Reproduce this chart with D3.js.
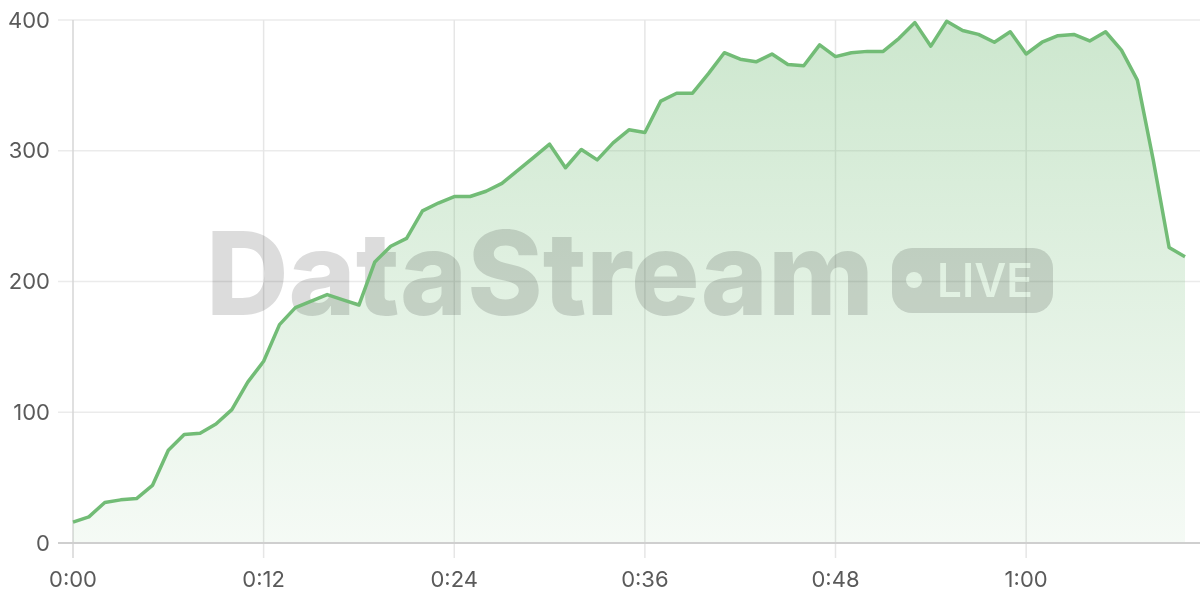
<!DOCTYPE html>
<html>
<head>
<meta charset="utf-8">
<script src="https://cdn.jsdelivr.net/npm/d3@7"></script>
<style>
  html, body { margin: 0; padding: 0; background: #fff; }
  svg { display: block; }
</style>
</head>
<body>
<div id="chart"></div>
<script>
// viewers per minute (one value per minute, 0:00 .. 1:10)
var viewers = [16, 20, 31, 33, 34, 44, 71, 83, 84, 91,
               102, 123, 139, 167, 180, 185, 190, 186, 182, 215,
               227, 233, 254, 260, 265, 265, 269, 275, 285, 295,
               305, 287, 301, 293, 306, 316, 314, 338, 344, 344,
               359, 375, 370, 368, 374, 366, 365, 381, 372, 375,
               376, 376, 386, 398, 380, 399, 392, 389, 383, 391,
               374, 383, 388, 389, 384, 391, 377, 354, 293, 226,
               219];
var xTicks = [0, 12, 24, 36, 48, 60];
var yTicks = [0, 100, 200, 300, 400];

var width = 1200;
var height = 600;
var margin = { top: 20, right: 15, bottom: 57, left: 73 };

var lineColor = "#72bc76";
var gridColor = "#ebebeb";
var labelColor = "#5a5a5a";

var data = viewers.map(function(v, i) { return { minute: i, value: v }; });

var x = d3.scaleLinear()
    .domain([0, data.length - 1])
    .range([margin.left, width - margin.right]);

var y = d3.scaleLinear()
    .domain([0, 400])
    .range([height - margin.bottom, margin.top]);

// 0:00, 0:12 ... minutes shown as h:mm
function fmt(m) {
  return Math.floor(m / 60) + ":" + d3.format("02d")(m % 60);
}

var svg = d3.select("#chart")
  .append("svg")
    .attr("width", width)
    .attr("height", height);

var defs = svg.append("defs");

var grad = defs.append("linearGradient")
    .attr("id", "areaFill")
    .attr("gradientUnits", "userSpaceOnUse")
    .attr("x1", 0).attr("x2", 0)
    .attr("y1", y(400)).attr("y2", y(0));
grad.append("stop").attr("offset", 0).attr("stop-color", lineColor).attr("stop-opacity", 0.36);
grad.append("stop").attr("offset", 1).attr("stop-color", lineColor).attr("stop-opacity", 0.07);

// horizontal grid (+ the little tick stubs on the left)
svg.append("g")
  .selectAll("line")
  .data(yTicks.slice(1))
  .join("line")
    .attr("x1", margin.left - 15)
    .attr("x2", width)
    .attr("y1", d => y(d))
    .attr("y2", d => y(d))
    .attr("stroke", gridColor)
    .attr("stroke-width", 1.5);

// vertical grid, dropping below the axis as tick marks
svg.append("g")
  .selectAll("line")
  .data(xTicks)
  .join("line")
    .attr("x1", d => x(d))
    .attr("x2", d => x(d))
    .attr("y1", y(400))
    .attr("y2", y(0) + 15)
    .attr("stroke", d => d === 0 ? "#d6d6d6" : "#e6e6e6")
    .attr("stroke-width", 1.5);

// area under the line
var area = d3.area()
    .x(d => x(d.minute))
    .y0(y(0))
    .y1(d => y(d.value));

svg.append("path")
    .datum(data)
    .attr("d", area)
    .attr("fill", "url(#areaFill)");

// bottom axis line
svg.append("line")
    .attr("x1", margin.left - 15)
    .attr("x2", width)
    .attr("y1", y(0))
    .attr("y2", y(0))
    .attr("stroke", "#cfcfcf")
    .attr("stroke-width", 2);

// watermark
var wm = svg.append("g").attr("opacity", 0.14);

wm.append("text")
    .attr("x", 206)
    .attr("y", 315)
    .attr("font-family", "Inter, sans-serif")
    .attr("font-weight", 800)
    .attr("font-size", 116)
    .attr("textLength", 668)
    .attr("lengthAdjust", "spacingAndGlyphs")
    .attr("fill", "#000")
    .text("DataStream");

// LIVE badge: the dot and letters are knocked out of the pill
var mask = defs.append("mask").attr("id", "liveMask");
mask.append("rect")
    .attr("x", 892).attr("y", 248)
    .attr("width", 161).attr("height", 65)
    .attr("rx", 20)
    .attr("fill", "#fff");
mask.append("circle")
    .attr("cx", 914).attr("cy", 280).attr("r", 8)
    .attr("fill", "#000");
mask.append("text")
    .attr("x", 937)
    .attr("y", 297)
    .attr("font-family", "Inter, sans-serif")
    .attr("font-weight", 600)
    .attr("font-size", 46)
    .attr("textLength", 96)
    .attr("lengthAdjust", "spacingAndGlyphs")
    .attr("fill", "#000")
    .text("LIVE");

wm.append("rect")
    .attr("x", 892).attr("y", 248)
    .attr("width", 161).attr("height", 65)
    .attr("fill", "#000")
    .attr("mask", "url(#liveMask)");

// the line
var line = d3.line()
    .x(d => x(d.minute))
    .y(d => y(d.value));

svg.append("path")
    .datum(data)
    .attr("d", line)
    .attr("fill", "none")
    .attr("stroke", lineColor)
    .attr("stroke-width", 3.5)
    .attr("stroke-linejoin", "round");

// y labels
svg.append("g")
  .selectAll("text")
  .data(yTicks)
  .join("text")
    .attr("x", 50)
    .attr("y", d => y(d))
    .attr("dy", "0.35em")
    .attr("text-anchor", "end")
    .attr("font-family", "Inter, sans-serif")
    .attr("font-size", 22)
    .attr("fill", labelColor)
    .text(d => d);

// x labels
svg.append("g")
  .selectAll("text")
  .data(xTicks)
  .join("text")
    .attr("x", d => x(d))
    .attr("y", 587)
    .attr("text-anchor", "middle")
    .attr("font-family", "Inter, sans-serif")
    .attr("font-size", 22)
    .attr("fill", labelColor)
    .text(d => fmt(d));
</script>
</body>
</html>
